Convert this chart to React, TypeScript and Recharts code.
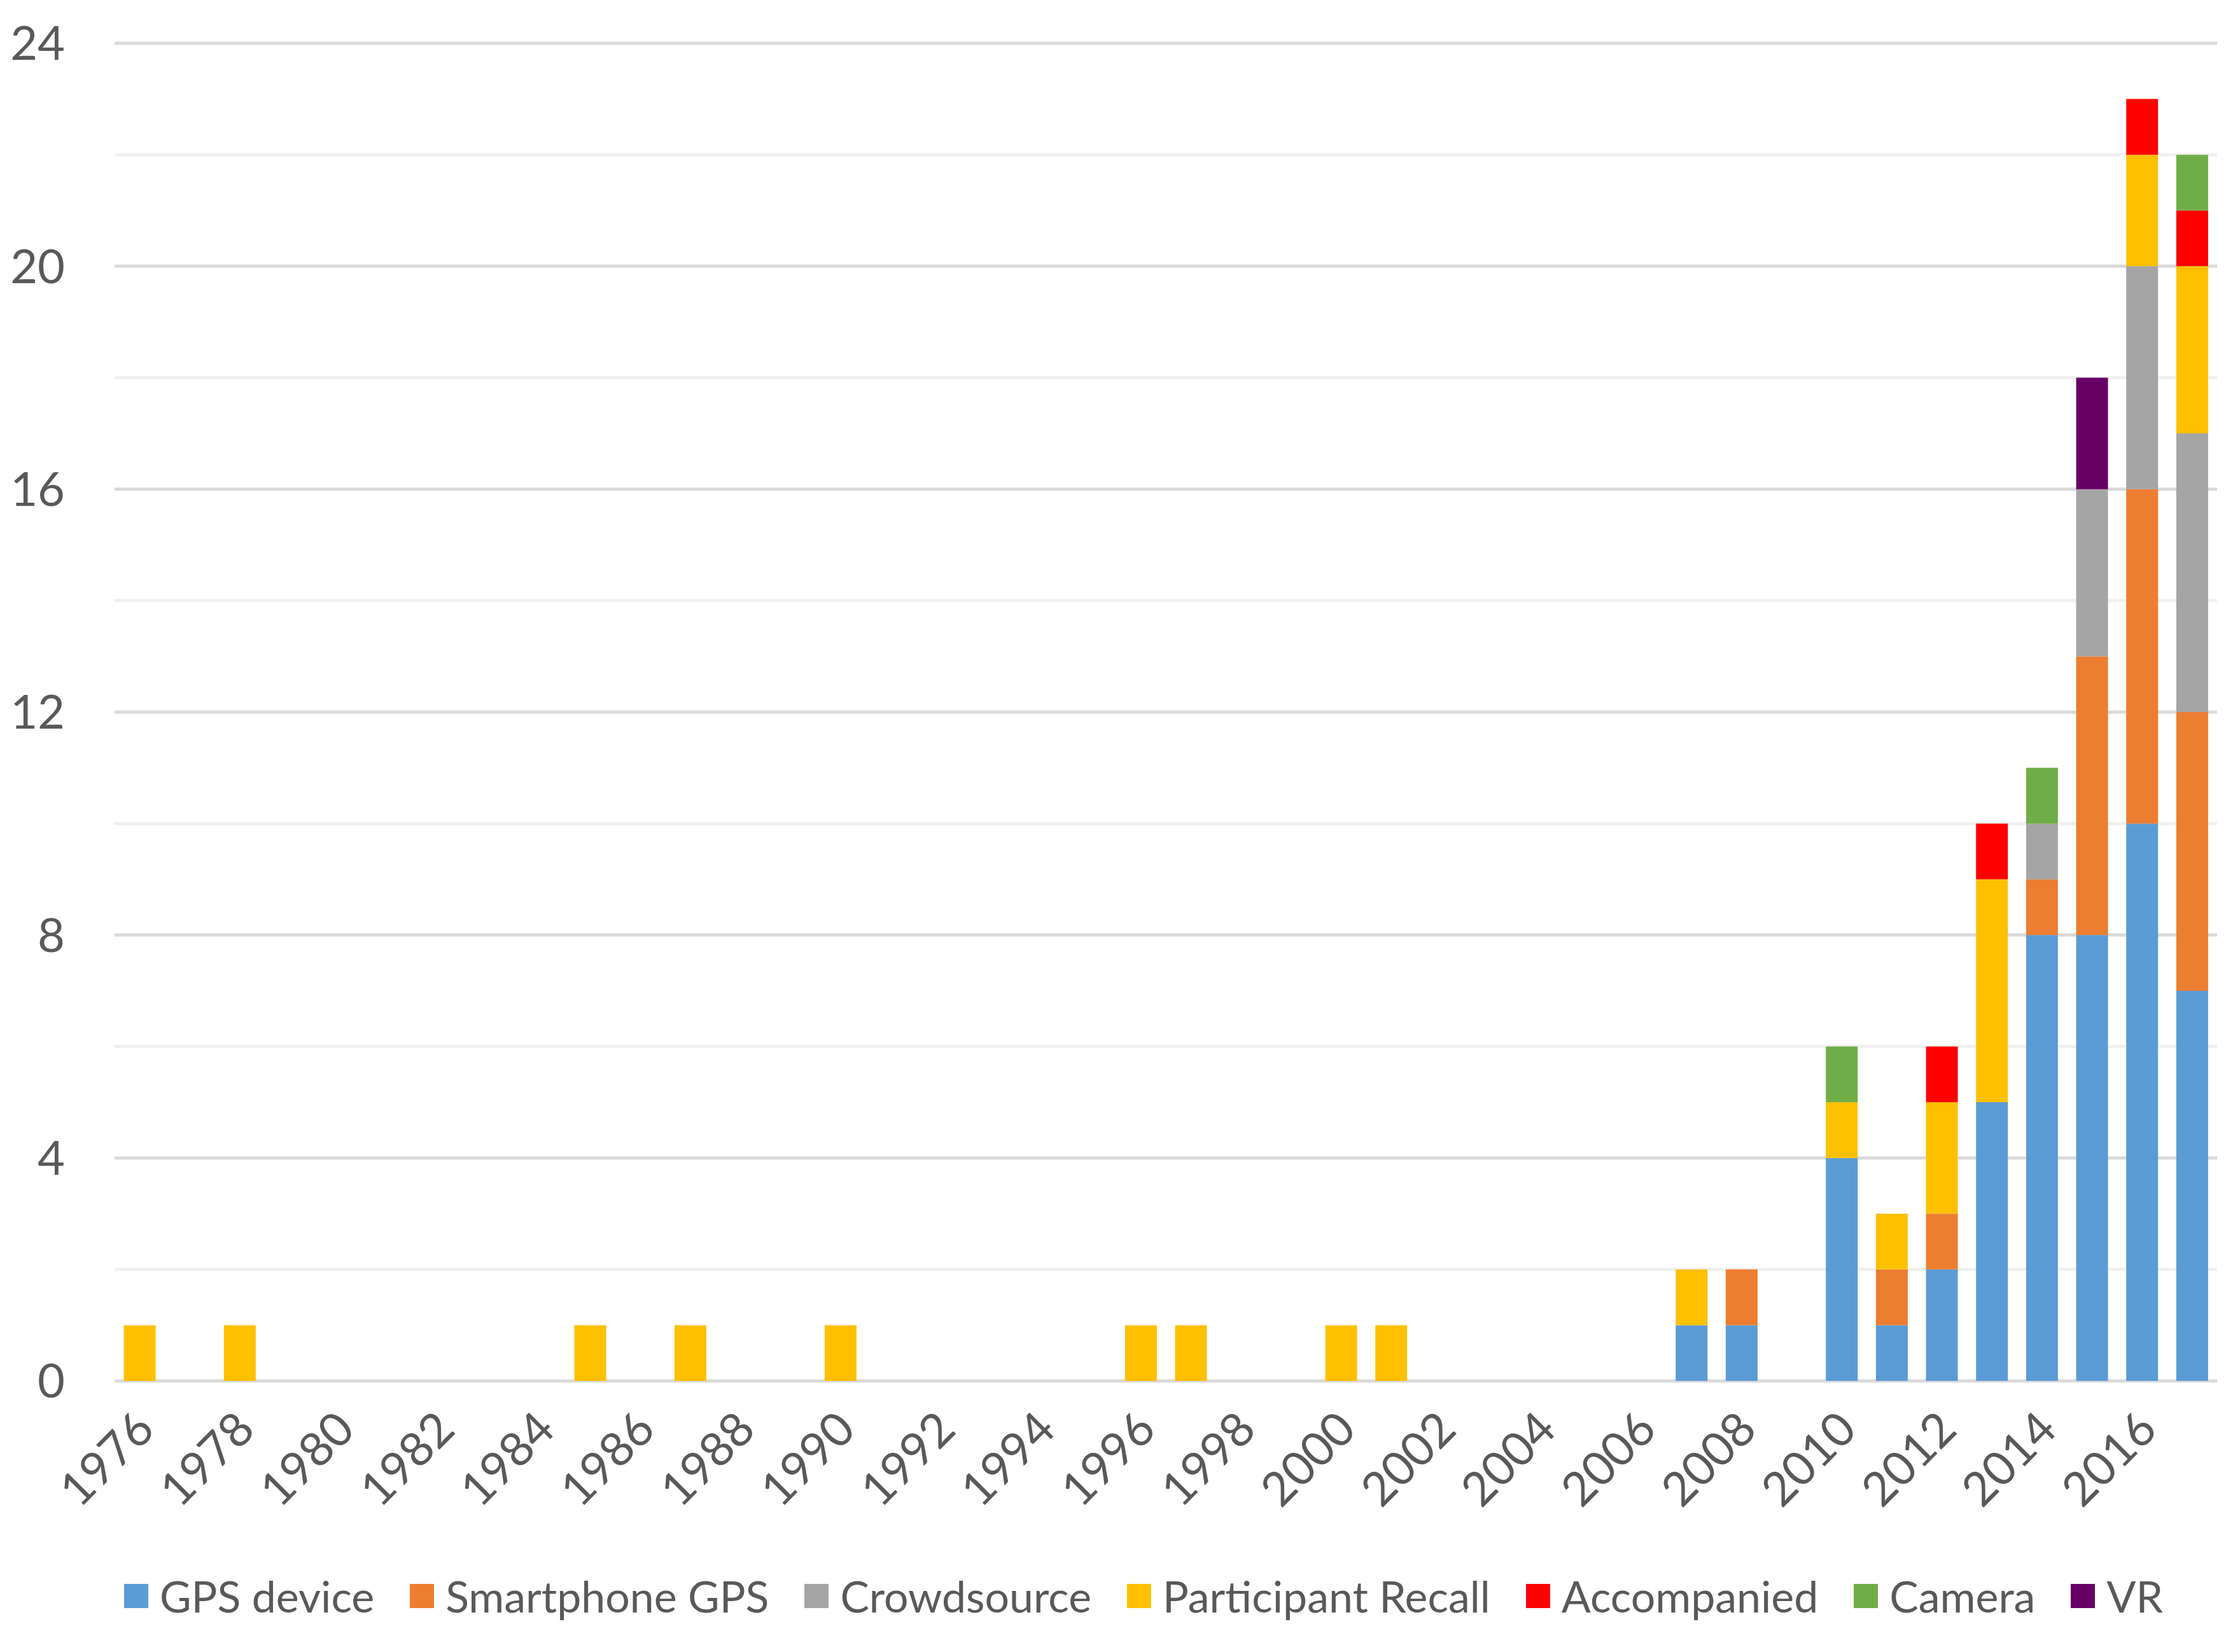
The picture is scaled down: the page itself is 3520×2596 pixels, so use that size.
import React from 'react';
import { BarChart, Bar, XAxis, YAxis, CartesianGrid, Legend, ReferenceLine } from 'recharts';

const years = [
    '1976', '1977', '1978', '1979', '1980', '1981', '1982', '1983', '1984', '1985',
    '1986', '1987', '1988', '1989', '1990', '1991', '1992', '1993', '1994', '1995',
    '1996', '1997', '1998', '1999', '2000', '2001', '2002', '2003', '2004', '2005',
    '2006', '2007', '2008', '2009', '2010', '2011', '2012', '2013', '2014', '2015',
    '2016', '2017',
];

// counts per year, 1976 -> 2017
const gpsDevice = [
    0, 0, 0, 0, 0, 0, 0, 0, 0, 0,
    0, 0, 0, 0, 0, 0, 0, 0, 0, 0,
    0, 0, 0, 0, 0, 0, 0, 0, 0, 0,
    0, 1, 1, 0, 4, 1, 2, 5, 8, 8,
    10, 7,
];
const smartphoneGps = [
    0, 0, 0, 0, 0, 0, 0, 0, 0, 0,
    0, 0, 0, 0, 0, 0, 0, 0, 0, 0,
    0, 0, 0, 0, 0, 0, 0, 0, 0, 0,
    0, 0, 1, 0, 0, 1, 1, 0, 1, 5,
    6, 5,
];
const crowdsource = [
    0, 0, 0, 0, 0, 0, 0, 0, 0, 0,
    0, 0, 0, 0, 0, 0, 0, 0, 0, 0,
    0, 0, 0, 0, 0, 0, 0, 0, 0, 0,
    0, 0, 0, 0, 0, 0, 0, 0, 1, 3,
    4, 5,
];
const participantRecall = [
    1, 0, 1, 0, 0, 0, 0, 0, 0, 1,
    0, 1, 0, 0, 1, 0, 0, 0, 0, 0,
    1, 1, 0, 0, 1, 1, 0, 0, 0, 0,
    0, 1, 0, 0, 1, 1, 2, 4, 0, 0,
    2, 3,
];
const accompanied = [
    0, 0, 0, 0, 0, 0, 0, 0, 0, 0,
    0, 0, 0, 0, 0, 0, 0, 0, 0, 0,
    0, 0, 0, 0, 0, 0, 0, 0, 0, 0,
    0, 0, 0, 0, 0, 0, 1, 1, 0, 0,
    1, 1,
];
const camera = [
    0, 0, 0, 0, 0, 0, 0, 0, 0, 0,
    0, 0, 0, 0, 0, 0, 0, 0, 0, 0,
    0, 0, 0, 0, 0, 0, 0, 0, 0, 0,
    0, 0, 0, 0, 1, 0, 0, 0, 1, 0,
    0, 1,
];
const vr = [
    0, 0, 0, 0, 0, 0, 0, 0, 0, 0,
    0, 0, 0, 0, 0, 0, 0, 0, 0, 0,
    0, 0, 0, 0, 0, 0, 0, 0, 0, 0,
    0, 0, 0, 0, 0, 0, 0, 0, 0, 2,
    0, 0,
];

const majorTicks = [0, 4, 8, 12, 16, 20, 24];
const minorTicks = [2, 6, 10, 14, 18, 22];

const series = [
    { key: 'gps', name: 'GPS device', color: '#5B9BD5', values: gpsDevice },
    { key: 'smartphone', name: 'Smartphone GPS', color: '#ED7D31', values: smartphoneGps },
    { key: 'crowd', name: 'Crowdsource', color: '#A5A5A5', values: crowdsource },
    { key: 'recall', name: 'Participant Recall', color: '#FFC000', values: participantRecall },
    { key: 'accompanied', name: 'Accompanied', color: '#FF0000', values: accompanied },
    { key: 'camera', name: 'Camera', color: '#70AD47', values: camera },
    { key: 'vr', name: 'VR', color: '#660066', values: vr },
];

const chartData = years.map((year, i) => {
    const row: Record<string, string | number> = { year };
    series.forEach(s => { row[s.key] = s.values[i]; });
    return row;
});

const FONT = 'Lato, "Noto Sans", sans-serif';
const TEXT = '#595959';

const renderLegend = () => (
    <div
        style={{
            display: 'flex',
            justifyContent: 'center',
            alignItems: 'flex-start',
            paddingLeft: 130,
            paddingTop: 28,
            height: 150,
            boxSizing: 'border-box',
            fontFamily: FONT,
            fontSize: 68,
            color: TEXT,
            lineHeight: 1,
        }}
    >
        {series.map(s => (
            <div key={s.key} style={{ display: 'flex', alignItems: 'center', marginRight: 56 }}>
                <span style={{ width: 38, height: 38, background: s.color, marginRight: 18, display: 'inline-block' }} />
                <span>{s.name}</span>
            </div>
        ))}
    </div>
);

export default function App() {
    return (
        <div style={{ width: 3520, height: 2596, background: '#fff' }}>
            <style>{'body{margin:0}'}</style>
            <BarChart
                width={3520}
                height={2596}
                data={chartData}
                margin={{ top: 68, right: 36, bottom: 0, left: 0 }}
                barCategoryGap="18.5%"
            >
                <CartesianGrid vertical={false} stroke="#D9D9D9" strokeWidth={5} />
                {/* minor gridlines, kept under the bars */}
                {minorTicks.map(v => (
                    <ReferenceLine key={v} y={v} stroke="#F0F0F0" strokeWidth={5} zIndex={-50} />
                ))}
                <XAxis
                    dataKey="year"
                    interval={1}
                    axisLine={false}
                    tickLine={false}
                    tickSize={0}
                    tickMargin={43}
                    height={276}
                    tick={{ fill: TEXT, fontSize: 74, fontFamily: FONT, angle: -45, textAnchor: 'end', dx: -10 }}
                />
                <YAxis
                    domain={[0, 24]}
                    ticks={majorTicks}
                    axisLine={false}
                    tickLine={false}
                    tickSize={0}
                    tickMargin={78}
                    width={180}
                    tick={{ fill: TEXT, fontSize: 74, fontFamily: FONT }}
                />
                <Legend verticalAlign="bottom" content={renderLegend} wrapperStyle={{ left: 0, width: 3520 }} />
                {series.map(s => (
                    <Bar
                        key={s.key}
                        dataKey={s.key}
                        name={s.name}
                        stackId="a"
                        fill={s.color}
                        isAnimationActive={false}
                    />
                ))}
            </BarChart>
        </div>
    );
}
